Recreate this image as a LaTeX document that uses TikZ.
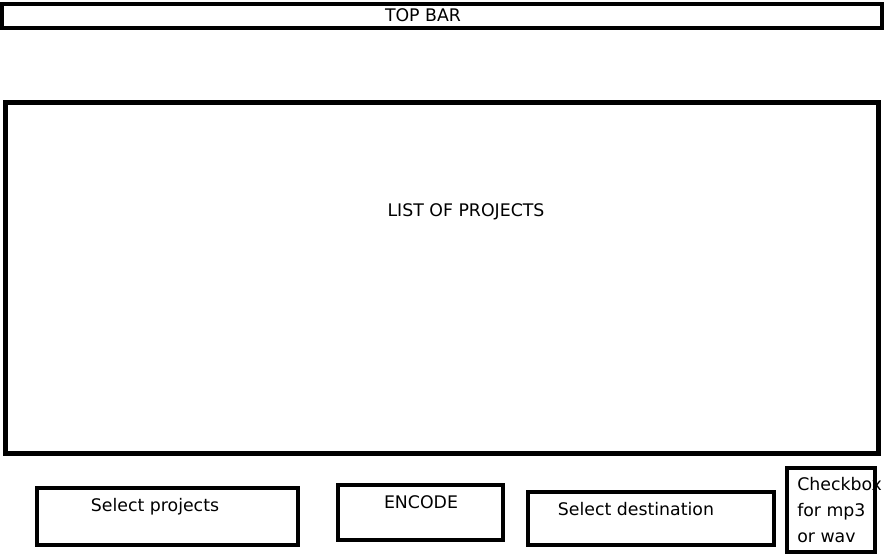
\documentclass[tikz,border=0pt]{standalone}
\usepackage{fontspec}
\setmainfont{DejaVu Sans}
\usepackage{tikz}
\usetikzlibrary{positioning}
\tikzset{
  panel/.style={rectangle, draw=black, line width=3.2pt, inner sep=0pt},
  caption/.style={inner sep=0pt, font=\fontsize{13}{19.5}\selectfont}
}
\begin{document}
\begin{tikzpicture}[x=0.75pt, y=-0.75pt]
    \useasboundingbox (0,0) rectangle (884,558);

    % Cajas
    \node (topbar) [panel, minimum width=660pt, minimum height=18pt] at (442,16) {};
    \node (list) [panel, minimum width=654.75pt, minimum height=263.25pt] at (442,278) {};
    \node (selproj) [panel, minimum width=195.75pt, minimum height=42.75pt] at (167.5,516.5) {};
    \node (encode) [panel, minimum width=123.75pt, minimum height=41.25pt] at (420.5,512.5) {};
    \node (seldest) [panel, minimum width=184.5pt, minimum height=39.75pt] at (651,518.5) {};
    \node (check) [panel, minimum width=66pt, minimum height=63pt] at (831,510) {};

    % Textos
    \node (topbartext) [caption] at (423,15) {TOP BAR};
    \node (listtext) [caption] at (466,212) {LIST OF PROJECTS};
    \node (selprojtext) [caption] at (155,507) {Select projects};
    \node (encodetext) [caption] at (421,502) {ENCODE};
    \node (seldesttext) [caption] at (636,509) {Select destination};
    \node (checktext) [caption, anchor=north west, align=left] at (797,477) {Checkbox\\for mp3\\or wav};

\end{tikzpicture}
\end{document}
